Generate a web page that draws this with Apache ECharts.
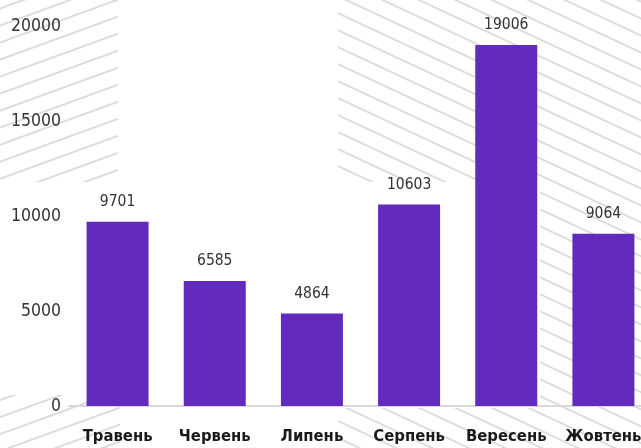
<!DOCTYPE html>
<html>
<head>
<meta charset="utf-8">
<script src="https://cdn.jsdelivr.net/npm/echarts@6/dist/echarts.min.js"></script>
<style>
html,body{margin:0;padding:0;background:#fff;}
#wrap{position:relative;width:641px;height:448px;overflow:hidden;background:#fff;}
#bg{position:absolute;left:0;top:0;}
#chart{position:absolute;left:0;top:0;width:641px;height:448px;}
</style>
</head>
<body>
<div id="wrap">
  <svg id="bg" width="641" height="448" xmlns="http://www.w3.org/2000/svg">
    <defs>
      <pattern id="ur" width="40" height="16" patternUnits="userSpaceOnUse" patternTransform="rotate(-20)">
        <line x1="0" y1="8" x2="40" y2="8" stroke="#d0d0d0" stroke-width="1.3"/>
      </pattern>
      <pattern id="dr" width="40" height="15.4" patternUnits="userSpaceOnUse" patternTransform="rotate(25)">
        <line x1="0" y1="7.7" x2="40" y2="7.7" stroke="#d0d0d0" stroke-width="1.3"/>
      </pattern>
    </defs>
    <rect x="0" y="0" width="118" height="182" fill="url(#ur)"/>
    <rect x="338" y="0" width="303" height="182" fill="url(#dr)"/>
    <rect x="540" y="182" width="101" height="266" fill="url(#dr)"/>
    <rect x="338" y="408" width="202" height="40" fill="url(#dr)"/>
    <rect x="0" y="395" width="120" height="53" fill="url(#ur)"/>
  </svg>
  <div id="chart"></div>
</div>
<script>
var categories = ['Травень', 'Червень', 'Липень', 'Серпень', 'Вересень', 'Жовтень'];
var values = [9701, 6585, 4864, 10603, 19006, 9064];
var yTicks = [0, 5000, 10000, 15000, 20000];

var chart = echarts.init(document.getElementById('chart'), null, {renderer: 'canvas'});
var fontFam = '"DejaVu Sans Condensed", "Liberation Sans Narrow", "DejaVu Sans", sans-serif';
chart.setOption({
  backgroundColor: 'transparent',
  animation: false,
  grid: {left: 69, top: 26, width: 583, bottom: 42, containLabel: false, outerBoundsMode: 'none'},
  xAxis: {
    type: 'category',
    data: categories,
    axisLine: {show: true, lineStyle: {color: '#d9d9d9', width: 2}},
    axisTick: {show: false},
    axisLabel: {
      interval: 0,
      color: '#1a1a1a', fontWeight: 'bold', fontSize: 16.5, fontFamily: fontFam, margin: 22
    }
  },
  yAxis: {
    type: 'value',
    min: yTicks[0],
    max: yTicks[yTicks.length - 1],
    interval: 5000,
    splitLine: {show: false},
    axisLine: {show: false},
    axisTick: {show: false},
    axisLabel: {
      color: '#333', fontSize: 17.5, fontFamily: fontFam, margin: 8,
      padding: [5, 0, 0, 0],
      formatter: function (v) { return String(v); }
    }
  },
  series: [{
    type: 'bar',
    data: values,
    barWidth: 62,
    itemStyle: {color: '#622abd'},
    label: {
      show: true, position: 'top', distance: 12,
      color: '#333', fontSize: 15.5, fontFamily: fontFam
    }
  }]
});
</script>
</body>
</html>
